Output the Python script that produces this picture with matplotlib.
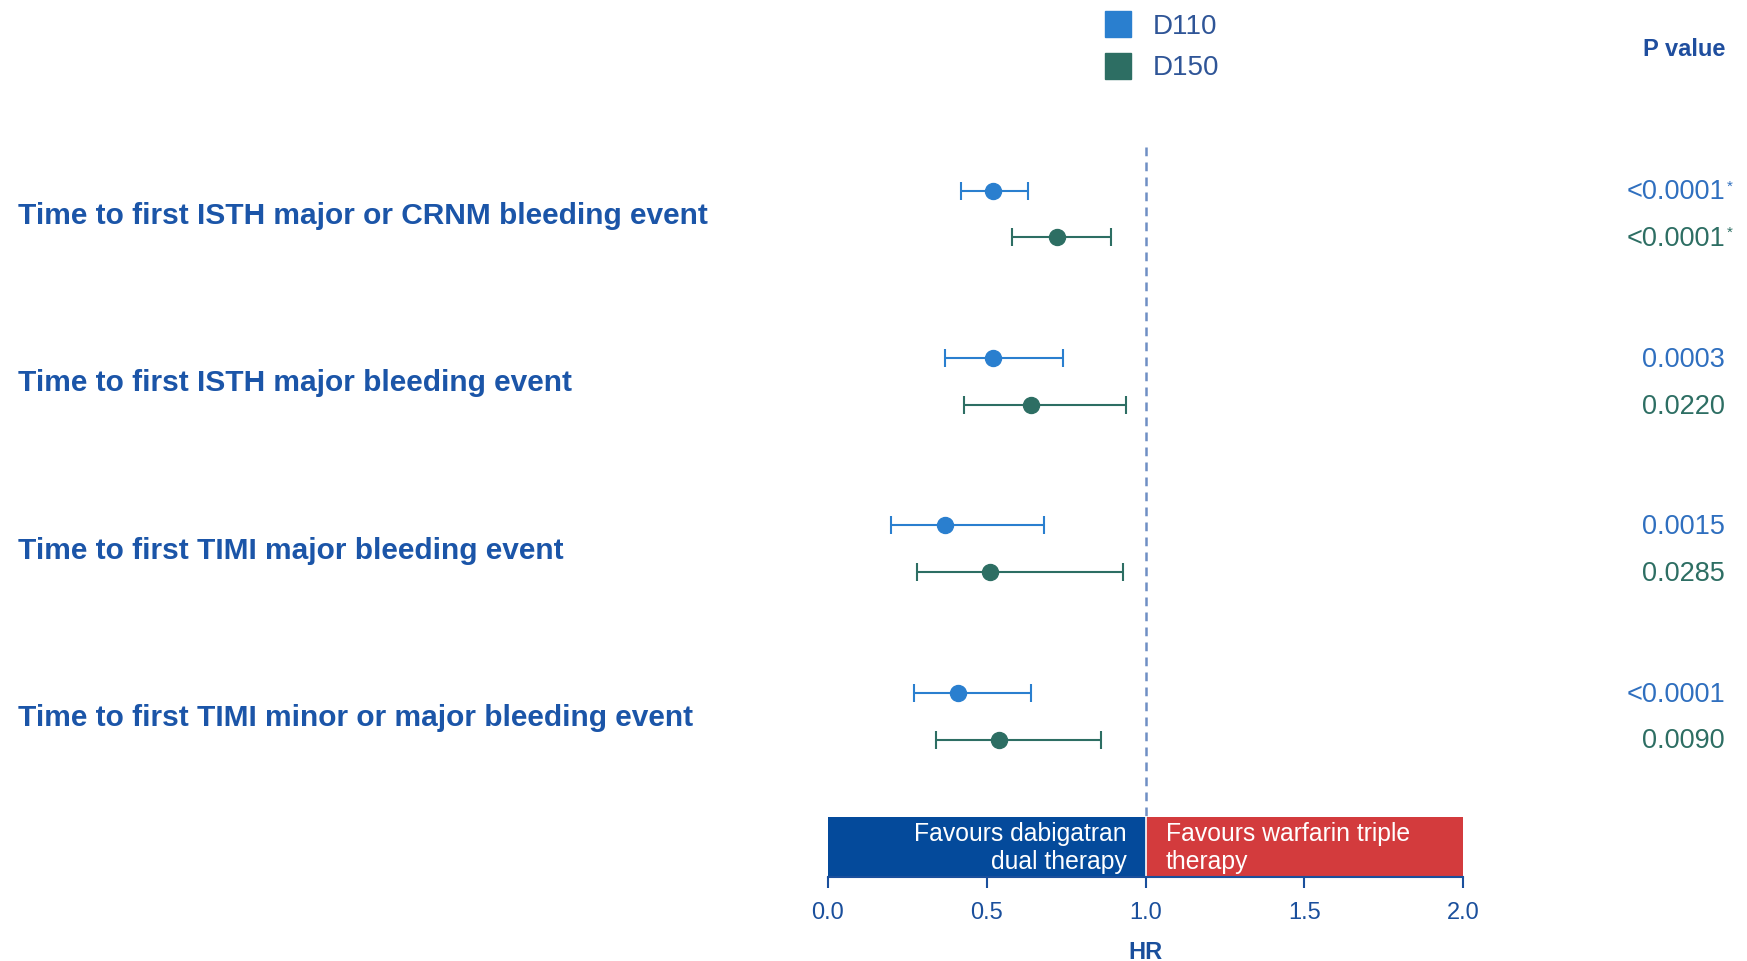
import matplotlib
matplotlib.use("Agg")
import matplotlib.pyplot as plt
import matplotlib.transforms as mtransforms
from matplotlib.lines import Line2D
import numpy as np

plt.rcParams['font.family'] = ['Liberation Sans', 'DejaVu Sans']

# Endpoints (top to bottom)
endpoints = [
    "Time to first ISTH major or CRNM bleeding event",
    "Time to first ISTH major bleeding event",
    "Time to first TIMI major bleeding event",
    "Time to first TIMI minor or major bleeding event",
]

# Hazard ratios with 95% CI, dabigatran 110 mg vs warfarin triple therapy
d110_hr = [0.52, 0.52, 0.37, 0.41]
d110_lo = [0.42, 0.37, 0.20, 0.27]
d110_hi = [0.63, 0.74, 0.68, 0.64]
d110_p = ["<0.0001*", "0.0003", "0.0015", "<0.0001"]

# Hazard ratios with 95% CI, dabigatran 150 mg vs warfarin triple therapy
d150_hr = [0.72, 0.64, 0.51, 0.54]
d150_lo = [0.58, 0.43, 0.28, 0.34]
d150_hi = [0.89, 0.94, 0.93, 0.86]
d150_p = ["<0.0001*", "0.0220", "0.0285", "0.0090"]

series_names = ["D110", "D150"]
xticks = [0.0, 0.5, 1.0, 1.5, 2.0]
xtick_labels = ["0.0", "0.5", "1.0", "1.5", "2.0"]

C_D110 = "#2a7fcf"
C_D150 = "#2d6e63"
C_TEXT = "#1b55a8"
C_AXIS = "#1a4f9c"
C_BLUE_BAR = "#044a9b"
C_RED_BAR = "#d33b3d"

W, H = 1747, 961
fig = plt.figure(figsize=(W / 100, H / 100), dpi=100)
ax = fig.add_axes([827.8 / W, 1 - 877 / H, 635.4 / W, 730 / H])

ax.set_xlim(0, 2)
ax.set_ylim(3.96, -0.40)

groups = np.arange(len(endpoints))
off = 0.14
y110 = groups - off
y150 = groups + off

# null line
ax.plot([1, 1], [-0.40, 3.60], color="#6f8fc4", lw=1.8, ls=(0, (3.5, 2.5)), zorder=1)

for hr, lo, hi, ys, col in [(d110_hr, d110_lo, d110_hi, y110, C_D110),
                            (d150_hr, d150_lo, d150_hi, y150, C_D150)]:
    hr = np.array(hr); lo = np.array(lo); hi = np.array(hi)
    ax.errorbar(hr, ys, xerr=[hr - lo, hi - hr], fmt='o', color=col,
                ms=11.5, elinewidth=1.5, capsize=6.5, capthick=1.5, zorder=3)

# favours bar
ax.barh(3.78, 1.0, left=0.0, height=0.36, color=C_BLUE_BAR, zorder=2)
ax.barh(3.78, 1.0, left=1.0, height=0.36, color=C_RED_BAR, zorder=2)
ax.plot([1, 1], [3.60, 3.96], color="white", lw=1.2, zorder=2.5)
ax.text(0.94, 3.785, "Favours dabigatran\ndual therapy", ha="right", va="center",
        color="white", fontsize=17.8, linespacing=1.2, zorder=4)
ax.text(1.063, 3.785, "Favours warfarin triple\ntherapy", ha="left", va="center",
        color="white", fontsize=17.8, linespacing=1.2, zorder=4)

for s in ["top", "left", "right"]:
    ax.spines[s].set_visible(False)
ax.spines["bottom"].set_color(C_AXIS)
ax.spines["bottom"].set_linewidth(1.5)
ax.set_yticks([])
ax.set_xticks(xticks)
ax.set_xticklabels(xtick_labels)
ax.tick_params(axis="x", length=8, width=1.5, color=C_AXIS, labelcolor=C_AXIS,
               labelsize=17, pad=10)
ax.set_xlabel("HR", fontsize=17, fontweight="bold", color=C_AXIS, labelpad=12)

# endpoint labels on the left
trans_lab = mtransforms.blended_transform_factory(fig.transFigure, ax.transData)
for g, name in zip(groups, endpoints):
    ax.text(17.8 / W, g + 0.01, name, transform=trans_lab, ha="left", va="center",
            fontsize=21.5, fontweight="bold", color=C_TEXT)

# p values on the right
px = 1725 / W
for ys, pvals, col in [(y110, d110_p, "#2f6fbf"), (y150, d150_p, C_D150)]:
    for y, p in zip(ys, pvals):
        star = p.endswith("*")
        txt = p.rstrip("*")
        ax.text(px, y + 0.01, txt, transform=trans_lab, ha="right", va="center",
                fontsize=19.5, color=col)
        if star:
            ax.annotate("*", xy=(px, y), xycoords=trans_lab, xytext=(1, 3),
                        textcoords="offset points", ha="left", va="center",
                        fontsize=11, color=col)

fig.text(px, 1 - 49 / H, "P value", ha="right", va="center", fontsize=17,
         fontweight="bold", color="#1f4e9e")

# legend
handles = [Line2D([], [], marker="s", ls="none", color=C_D110, ms=19),
           Line2D([], [], marker="s", ls="none", color=C_D150, ms=19)]
fig.legend(handles, series_names, loc="upper left",
           bbox_to_anchor=(1104 / W, 1 - 14 / H), frameon=False, borderpad=0,
           borderaxespad=0, handlelength=1.0, handletextpad=0.75,
           labelspacing=0.55, fontsize=20, labelcolor="#2f5597")

fig.savefig("out.png", dpi=100)
